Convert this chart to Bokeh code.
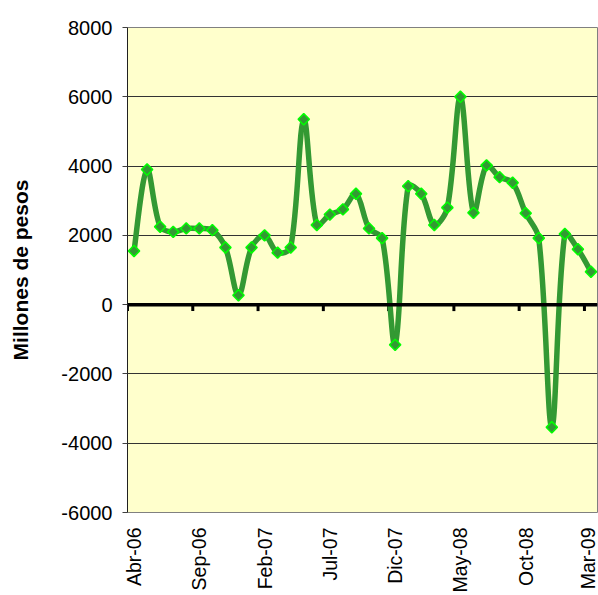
import numpy as np
from bokeh.plotting import figure
from bokeh.models import Range1d, FixedTicker, Span, ColumnDataSource
from bokeh.embed import file_html
from bokeh.resources import INLINE

months = ["Abr-06", "May-06", "Jun-06", "Jul-06", "Ago-06", "Sep-06", "Oct-06", "Nov-06",
          "Dic-06", "Ene-07", "Feb-07", "Mar-07", "Abr-07", "May-07", "Jun-07", "Jul-07",
          "Ago-07", "Sep-07", "Oct-07", "Nov-07", "Dic-07", "Ene-08", "Feb-08", "Mar-08",
          "Abr-08", "May-08", "Jun-08", "Jul-08", "Ago-08", "Sep-08", "Oct-08", "Nov-08",
          "Dic-08", "Ene-09", "Feb-09", "Mar-09"]
values = [1550, 3900, 2250, 2100, 2200, 2200, 2150, 1650,
          270, 1650, 2000, 1500, 1650, 5350, 2300, 2600,
          2750, 3200, 2200, 1920, -1160, 3420, 3200, 2300,
          2800, 6000, 2650, 4020, 3680, 3520, 2640, 1920,
          -3540, 2040, 1600, 950]
label_every = 5
y_ticks = [-6000, -4000, -2000, 0, 2000, 4000, 6000, 8000]

FONT = "Liberation Sans"
LINE_GREEN = "#339933"
FRAME_W, FRAME_H = 470, 488

n = len(values)
x = np.arange(n, dtype=float)
y = np.array(values, dtype=float)

p = figure(width=598, height=595, output_backend="svg", toolbar_location=None,
           x_range=Range1d(-0.5, n - 0.5), y_range=Range1d(y_ticks[0], y_ticks[-1]),
           min_border_left=127, min_border_right=1, min_border_top=27, min_border_bottom=80)

p.background_fill_color = "#FFFFCC"
p.border_fill_color = "white"
p.outline_line_color = "#808080"
p.outline_line_width = 1

# y axis
p.yaxis.ticker = FixedTicker(ticks=y_ticks)
p.yaxis.major_label_overrides = {v: str(v) for v in y_ticks}
p.yaxis.axis_label = "Millones de pesos"
p.yaxis.axis_label_text_font = FONT
p.yaxis.axis_label_text_font_style = "bold"
p.yaxis.axis_label_text_font_size = "21px"
p.yaxis.axis_label_text_color = "black"
p.yaxis.axis_label_standoff = 26
p.yaxis.major_label_text_font = FONT
p.yaxis.major_label_text_font_size = "20px"
p.yaxis.major_label_text_color = "black"
p.yaxis.major_tick_out = 5
p.yaxis.major_tick_in = 0
p.yaxis.minor_tick_line_color = None
p.yaxis.major_label_standoff = 10
p.yaxis.axis_line_color = "#202020"
p.yaxis.major_tick_line_color = "#404040"

# x axis (labels only, at the bottom)
label_idx = list(range(0, n, label_every))
p.xaxis.ticker = FixedTicker(ticks=label_idx)
p.xaxis.major_label_overrides = {i: months[i] for i in label_idx}
p.xaxis.major_label_orientation = np.pi / 2
p.xaxis.major_label_text_font = FONT
p.xaxis.major_label_text_font_size = "19.5px"
p.xaxis.major_label_text_color = "black"
p.xaxis.major_tick_out = 0
p.xaxis.major_tick_in = 0
p.xaxis.minor_tick_line_color = None
p.xaxis.axis_line_color = None
p.xaxis.major_tick_line_color = None
p.xaxis.major_label_standoff = 15

# grid
p.xgrid.grid_line_color = None
p.ygrid.ticker = FixedTicker(ticks=y_ticks)
p.ygrid.grid_line_color = "#333333"
p.ygrid.grid_line_width = 1

# zero line with category-boundary ticks
p.add_layout(Span(location=0, dimension="width", line_color="black", line_width=3.5))
px_y = FRAME_H / (y_ticks[-1] - y_ticks[0])
px_x = FRAME_W / n
tick_len = 6.5 / px_y
bounds = np.arange(-0.5, n - 0.5, label_every)
p.segment(x0=bounds, y0=np.zeros_like(bounds), x1=bounds, y1=-tick_len * np.ones_like(bounds),
          line_color="black", line_width=3)

# smoothed line: cubic Bezier, tangent from neighbours, length proportional to adjacent chord
sx, sy = x * px_x, y * px_y
cout_x, cout_y = np.zeros(n), np.zeros(n)
cin_x, cin_y = np.zeros(n), np.zeros(n)
for i in range(n):
    ip, inx = max(i - 1, 0), min(i + 1, n - 1)
    dx, dy = sx[inx] - sx[ip], sy[inx] - sy[ip]
    d_prev = np.hypot(sx[i] - sx[ip], sy[i] - sy[ip])
    d_next = np.hypot(sx[inx] - sx[i], sy[inx] - sy[i])
    tot = d_prev + d_next
    fo = d_next / tot / 3.0 if tot > 0 else 0
    fi = d_prev / tot / 3.0 if tot > 0 else 0
    if i == 0 or i == n - 1:
        fo, fi = fo / 2, fi / 2
    cout_x[i], cout_y[i] = sx[i] + dx * fo, sy[i] + dy * fo
    cin_x[i], cin_y[i] = sx[i] - dx * fi, sy[i] - dy * fi

p.bezier(x0=x[:-1], y0=y[:-1], x1=x[1:], y1=y[1:],
         cx0=cout_x[:-1] / px_x, cy0=cout_y[:-1] / px_y,
         cx1=cin_x[1:] / px_x, cy1=cin_y[1:] / px_y,
         line_color=LINE_GREEN, line_width=5.5, line_cap="round")

src = ColumnDataSource(dict(x=x, y=y))
p.scatter("x", "y", source=src, marker="square", angle=np.pi / 4, size=8,
          fill_color=LINE_GREEN, line_color="#00FF00", line_width=1.5)

open("out.html", "w").write(file_html(p, INLINE))
